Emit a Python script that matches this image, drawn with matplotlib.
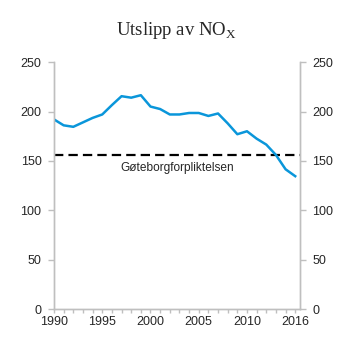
import matplotlib
matplotlib.use("Agg")
import matplotlib.pyplot as plt
import numpy as np

plt.rcParams['font.family'] = ['Liberation Sans', 'DejaVu Sans']
plt.rcParams['mathtext.fontset'] = 'custom'
plt.rcParams['mathtext.rm'] = 'Liberation Serif'

# NOx emissions (1000 tonnes)
years = list(range(1990, 2016))
utslipp = [192, 186, 184.5, 189, 193.5, 197, 206.5, 215.5, 214, 216.5,
           205, 202.5, 197, 197, 198.5, 198.5, 195.5, 198, 188, 177,
           180, 172.5, 166.5, 156, 141.5, 134.5]
goteborg = 156
tick_pos = [1990, 1995, 2000, 2005, 2010, 2015]
tick_labels = ["1990", "1995", "2000", "2005", "2010", "2016"]
yticks = [0, 50, 100, 150, 200, 250]

grey = '#bfbfbf'
txt = '#262626'

fig = plt.figure(figsize=(3.53, 3.53), dpi=100)
ax = fig.add_axes([0.153, 0.1246, 0.697, 0.6994])

ax.plot(years, utslipp, color='#0a96da', lw=1.8, zorder=3)
ax.axhline(goteborg, color='black', lw=1.6, ls=(0, (4.2, 2.3)), zorder=2)
ax.text(2002.8, 143, 'Gøteborgforpliktelsen', ha='center', va='center',
        fontsize=8.6, color=txt)

ax.set_xlim(1990, 2015.5)
ax.set_ylim(0, 250)
ax.set_xticks(years, minor=True)
ax.set_xticks(tick_pos)
ax.set_xticklabels(tick_labels)
ax.set_yticks(yticks)

ax2 = ax.twinx()
ax2.set_ylim(0, 250)
ax2.set_yticks(yticks)

for a in (ax, ax2):
    a.spines['top'].set_visible(False)
    for s in ('left', 'right', 'bottom'):
        a.spines[s].set_color(grey)
        a.spines[s].set_linewidth(1.0)
    a.tick_params(axis='both', which='both', colors=grey, labelcolor=txt,
                  labelsize=9, length=4, width=1.0, direction='out')
ax.tick_params(axis='x', which='both', length=3, pad=2)
ax.tick_params(axis='y', pad=5)
ax2.tick_params(axis='y', pad=5)

fig.text(0.4985, 0.915, r'Utslipp av NO$_\mathrm{X}$', ha='center', va='center',
         fontsize=13.5, family='Liberation Serif', color=txt)

fig.savefig('out.png', dpi=100)
